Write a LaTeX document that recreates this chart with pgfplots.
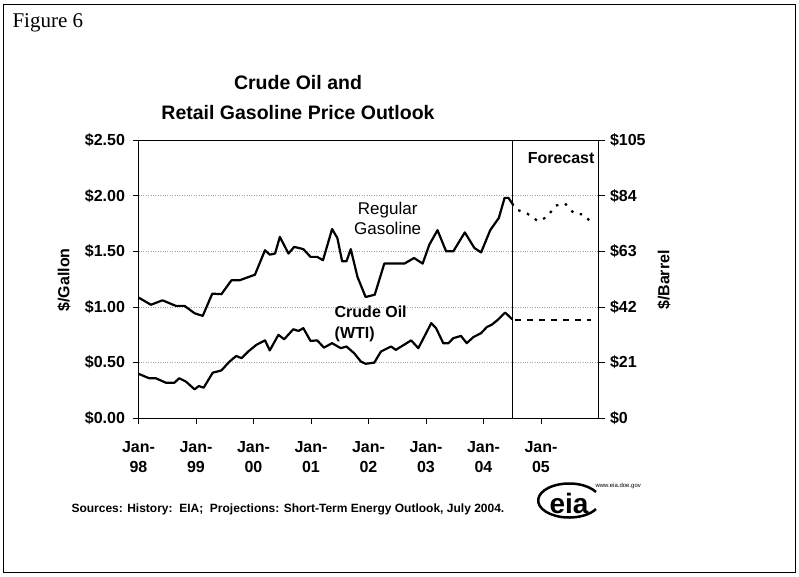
\documentclass[border=0pt]{standalone}
\usepackage{pgfplots}
\pgfplotsset{compat=1.18}
\usepackage{fontspec}
\setmainfont{Liberation Sans}
\newfontfamily\timesfont{Liberation Serif}

\begin{document}
\begin{tikzpicture}[x=1pt,y=1pt]
\path[use as bounding box] (0,0) rectangle (799,-576);
\draw[line width=0.8pt] (3,-4) rectangle (795,-572);
\node[anchor=west,font=\timesfont\fontsize{21}{24}\selectfont] at (9,-23) {Figure 6};
\node[align=center,font=\bfseries\fontsize{19.5}{30}\selectfont] at (298,-98) {Crude Oil and\\Retail Gasoline Price Outlook};

\begin{axis}[at={(138.5pt,-418.3pt)}, anchor=south west, scale only axis,
  width=460pt, height=278.3pt,
  xmin=0, xmax=96, ymin=0, ymax=2.5,
  xtick={0,12,24,36,48,60,72,84},
  xticklabels={Jan-\\98,Jan-\\99,Jan-\\00,Jan-\\01,Jan-\\02,Jan-\\03,Jan-\\04,Jan-\\05},
  ytick={0,0.5,1,1.5,2,2.5},
  yticklabels={\$0.00,\$0.50,\$1.00,\$1.50,\$2.00,\$2.50},
  ytick pos=left, xtick pos=bottom, tick align=outside, major tick length=6pt,
  ymajorgrids, grid style={gray!70, dotted, line width=0.6pt},
  axis line style={line width=0.8pt}, tick style={black, line width=0.8pt},
  ticklabel style={font=\bfseries\fontsize{16}{20}\selectfont},
  xticklabel style={align=center, yshift=-14pt},
  yticklabel style={xshift=-4pt},
  clip=false]
% Regular gasoline, history ($/gallon)
\addplot[black, line width=2.2pt, line join=round] coordinates {
(0,1.085) (2.6,1.02) (5.0,1.06) (7.8,1.01) (9.6,1.01) (11.7,0.944) (13.4,0.92)
(15.4,1.12) (17.3,1.115) (19.4,1.24) (21.1,1.24) (24.3,1.29) (26.4,1.51) (27.4,1.47)
(28.5,1.48) (29.5,1.63) (31.3,1.48) (32.5,1.54) (34.4,1.52) (35.9,1.45) (37.3,1.45)
(38.5,1.42) (40.4,1.70) (41.5,1.62) (42.5,1.41) (43.4,1.41) (44.3,1.52) (45.7,1.27)
(47.4,1.09) (49.3,1.11) (51.3,1.39) (53.4,1.39) (55.5,1.39) (57.5,1.44) (59.3,1.39)
(60.7,1.56) (62.4,1.69) (64.2,1.50) (65.7,1.50) (68.1,1.67) (70.1,1.53) (71.5,1.49)
(73.4,1.69) (75.2,1.80) (76.4,1.98) (77.2,1.98) (78,1.93)};
% Regular gasoline, forecast
\addplot[black, line width=2.2pt, dash pattern=on 2.5pt off 7pt] coordinates {
(78,1.93) (78.6,1.88) (81.1,1.84) (83.4,1.77) (85.3,1.81) (87.0,1.91) (89.0,1.93)
(90.9,1.84) (93.0,1.83) (94.7,1.745)};
% Crude oil (WTI), history, in $/gallon equivalent
\addplot[black, line width=2.2pt, line join=round] coordinates {
(0,0.40) (2.2,0.36) (3.6,0.36) (5.7,0.32) (7.5,0.32) (8.5,0.36) (9.9,0.33)
(11.7,0.26) (12.6,0.29) (13.6,0.275) (15.5,0.41) (17.3,0.43) (19.0,0.51) (20.4,0.56)
(21.5,0.54) (22.9,0.60) (24.6,0.66) (26.4,0.70) (27.4,0.61) (29.2,0.75) (30.4,0.71)
(32.3,0.80) (33.4,0.785) (34.4,0.81) (35.9,0.695) (37.3,0.70) (38.7,0.635) (40.4,0.675)
(42.2,0.63) (43.4,0.645) (45.0,0.585) (46.4,0.51) (47.4,0.49) (49.2,0.50) (50.6,0.60)
(52.7,0.645) (53.7,0.615) (56.9,0.70) (58.4,0.63) (61.1,0.855) (62.1,0.81) (63.6,0.675)
(64.7,0.675) (65.7,0.72) (67.3,0.74) (68.5,0.675) (69.9,0.73) (71.5,0.765) (72.7,0.82)
(73.7,0.84) (75.0,0.885) (76.5,0.95) (78,0.89)};
% Crude oil, forecast
\addplot[black, line width=2.2pt, dash pattern=on 6pt off 6pt] coordinates {
(78.6,0.88) (94.5,0.88)};
% Forecast divider
\addplot[black, line width=1.2pt] coordinates {(78,0) (78,2.5)};
\node[font=\bfseries\fontsize{16}{20}\selectfont] at (axis cs:88.2,2.34) {Forecast};
\node[align=center,font=\fontsize{17}{19.5}\selectfont] at (axis cs:52.0,1.795) {Regular\\Gasoline};
\node[anchor=west,align=left,inner sep=0pt,font=\bfseries\fontsize{16}{20.7}\selectfont] at (axis cs:40.9,0.851) {Crude Oil\\(WTI)};
\end{axis}

\begin{axis}[at={(138.5pt,-418.3pt)}, anchor=south west, scale only axis,
  width=460pt, height=278.3pt,
  xmin=0, xmax=96, ymin=0, ymax=105,
  axis x line=none, axis y line*=right,
  ytick={0,21,42,63,84,105},
  yticklabels={\$0,\$21,\$42,\$63,\$84,\$105},
  tick align=outside, major tick length=6pt,
  axis line style={line width=0.8pt}, tick style={black, line width=0.8pt},
  ticklabel style={font=\bfseries\fontsize{16}{20}\selectfont},
  yticklabel style={xshift=2pt}]
\addplot[draw=none] coordinates {(0,0) (96,105)};
\end{axis}

\node[rotate=90,font=\bfseries\fontsize{16}{20}\selectfont] at (64,-280) {\$/Gallon};
\node[rotate=90,font=\bfseries\fontsize{16}{20}\selectfont] at (664,-280) {\$/Barrel};
\node[anchor=west,font=\bfseries\fontsize{12}{14}\selectfont] at (68,-509) {Sources: History:\ \ EIA;\ \ Projections: Short-Term Energy Outlook, July 2004.};
% EIA logo
\draw[line width=2.5pt] (596,-492) arc[start angle=30,end angle=330,x radius=31,y radius=17];
\node[font=\bfseries\fontsize{28}{28}\selectfont] at (569,-503) {eia};
\node[anchor=west,font=\fontsize{6}{7}\selectfont] at (592,-486) {www.eia.doe.gov};
\end{tikzpicture}
\end{document}
